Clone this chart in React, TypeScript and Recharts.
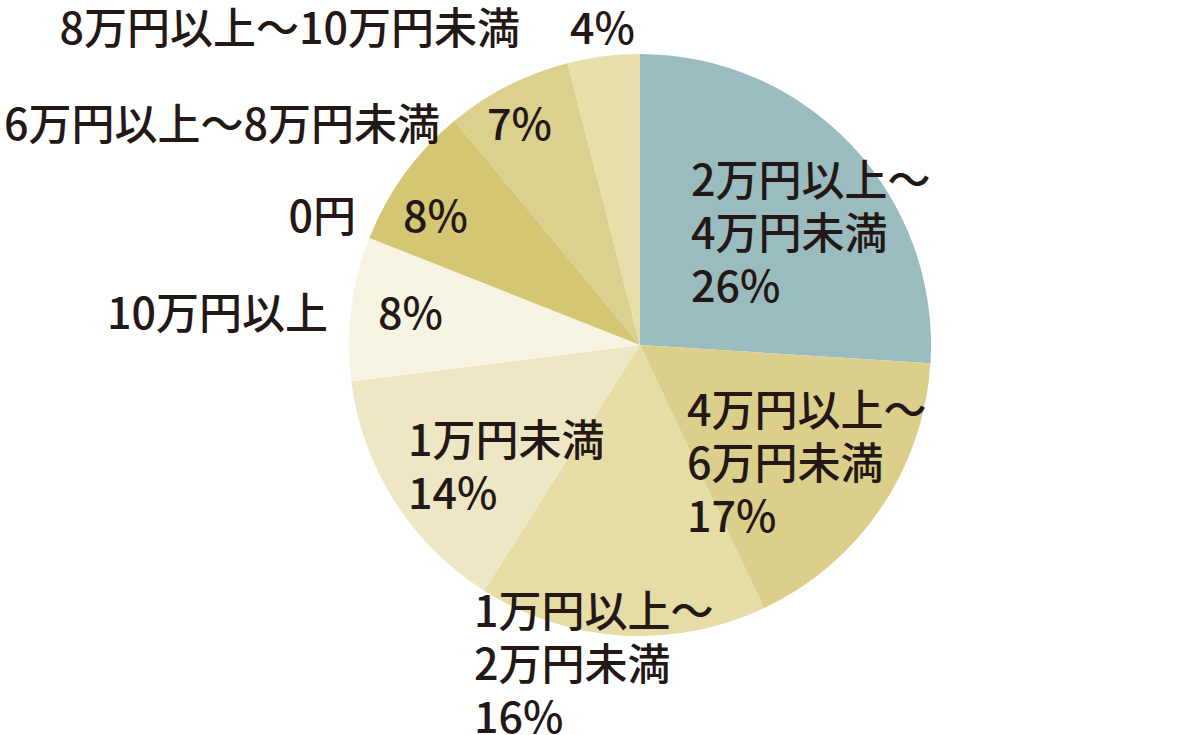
import React from 'react';
import { Cell, Pie, PieChart } from 'recharts';

// slices, clockwise from 12 o'clock
const names = [
  '2万円以上～\n4万円未満',
  '4万円以上～\n6万円未満',
  '1万円以上～\n2万円未満',
  '1万円未満',
  '10万円以上',
  '0円',
  '6万円以上～8万円未満',
  '8万円以上～10万円未満',
];
const shares = [26, 17, 16, 14, 8, 8, 7, 4];
const colors = ['#9bbcbf', '#dbcf8b', '#e5dca6', '#eee7c5', '#f8f4e3', '#d4c673', '#dcd08f', '#e7dfaa'];

const data = names.map((name, i) => ({ name, value: shares[i] }));

// label placement relative to the pie centre
// inside: text block starts at dx; outside: name ends at dx, percent starts at px
const labelLayout = [
  { mode: 'inside', dx: 51, dy: -168 },
  { mode: 'inside', dx: 47, dy: 62 },
  { mode: 'inside', dx: -166, dy: 263 },
  { mode: 'inside', dx: -232, dy: 92 },
  { mode: 'outside', dx: -312, px: -262, dy: -35 },
  { mode: 'outside', dx: -284, px: -237, dy: -132 },
  { mode: 'outside', dx: -200, px: -153, dy: -224 },
  { mode: 'outside', dx: -120, px: -70, dy: -320 },
];

const CX = 640;
const CY = 345;
const LINE = 53;
const textColor = '#231815';

const renderLabel = (props: any) => {
  const { cx, cy, index } = props;
  const lay = labelLayout[index];
  const pct = `${shares[index]}%`;
  const common = {
    fill: textColor,
    fontSize: 43,
    fontWeight: 500,
    dominantBaseline: 'central' as const,
  };
  if (lay.mode === 'inside') {
    const lines = [...names[index].split('\n'), pct];
    return (
      <g key={`lab-${index}`}>
        {lines.map((t, i) => (
          <text key={i} x={cx + lay.dx} y={cy + lay.dy + i * LINE} textAnchor="start" {...common}>
            {t}
          </text>
        ))}
      </g>
    );
  }
  return (
    <g key={`lab-${index}`}>
      <text x={cx + lay.dx} y={cy + lay.dy} textAnchor="end" {...common}>
        {names[index]}
      </text>
      <text x={cx + (lay.px as number)} y={cy + lay.dy} textAnchor="start" {...common}>
        {pct}
      </text>
    </g>
  );
};

export default function App() {
  return (
    <div
      style={{
        position: 'absolute',
        left: 0,
        top: 0,
        width: 1200,
        height: 735,
        background: '#ffffff',
        fontFamily: '"Noto Sans CJK JP", "Noto Sans", sans-serif',
      }}
    >
      <PieChart width={1200} height={735} margin={{ top: 0, right: 0, bottom: 0, left: 0 }}>
        <Pie
          data={data}
          dataKey="value"
          nameKey="name"
          cx={CX}
          cy={CY}
          outerRadius={291}
          startAngle={90}
          endAngle={-270}
          stroke="none"
          labelLine={false}
          label={renderLabel}
          isAnimationActive={false}
        >
          {data.map((entry, i) => (
            <Cell key={`cell-${i}`} fill={colors[i]} />
          ))}
        </Pie>
      </PieChart>
    </div>
  );
}
